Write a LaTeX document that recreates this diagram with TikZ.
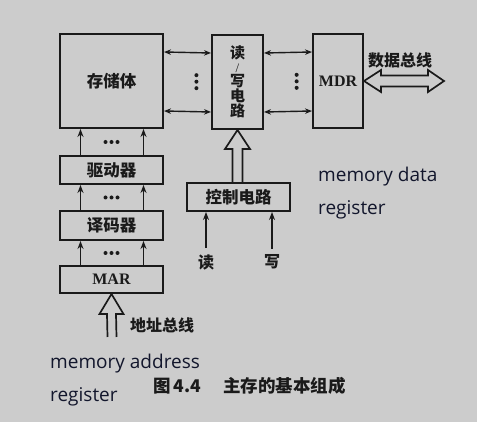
\documentclass[tikz,border=0pt]{standalone}
\usepackage{fontspec}
\setmainfont{Liberation Serif}
\newfontfamily\cjk{Noto Sans CJK SC}
\newfontfamily\uifont{Open Sans}
\usetikzlibrary{arrows.meta,calc}
\definecolor{bg}{RGB}{204,204,204}
\definecolor{ink}{RGB}{26,26,26}
\definecolor{navy}{RGB}{18,22,44}
\tikzset{
  box/.style={draw=ink, fill=bg, line width=2pt, inner sep=0pt, align=center,
    font=\cjk\bfseries\fontsize{16.5}{16.5}\selectfont, text=ink},
  rbox/.style={draw=ink, fill=bg, line width=2pt, inner sep=0pt,
    font=\rmfamily\bfseries\fontsize{16}{16}\selectfont, text=ink},
  lbl/.style={inner sep=0pt, font=\cjk\bfseries\fontsize{16}{16}\selectfont, text=ink},
  note/.style={inner sep=0pt, anchor=north west, align=left, text=navy,
    font=\uifont\fontsize{19}{33}\selectfont},
  arr/.style={-{Stealth[length=8pt,width=6pt]}, line width=1.4pt, draw=ink},
  darr/.style={{Stealth[length=7pt,width=5.5pt]}-{Stealth[length=7pt,width=5.5pt]},
    line width=1.4pt, draw=ink},
  hollow/.style={draw=ink, fill=bg, line width=1.7pt, line join=miter},
}

\begin{document}
\begin{tikzpicture}[x=1pt,y=-1pt]
  \fill[bg] (0,0) rectangle (477,422);
  \useasboundingbox (0,0) rectangle (477,422);

  \node[box, minimum width=103pt, minimum height=94pt] (mem) at (111.5,81) {存储体};
  \node[box, minimum width=51pt, minimum height=94pt,
    font=\cjk\bfseries\fontsize{15}{15}\selectfont] (rw) at (237.5,82)
    {读\\[-1pt]{\rmfamily\mdseries\fontsize{13}{13}\selectfont /}\\[-1pt]写\\电\\路};
  \node[rbox, minimum width=50pt, minimum height=94pt] (mdr) at (338,81) {MDR};
  \node[box, minimum width=103pt, minimum height=28pt] (drv) at (111.5,170) {驱动器};
  \node[box, minimum width=103pt, minimum height=29pt] (dec) at (111.5,225.5) {译码器};
  \node[rbox, minimum width=103pt, minimum height=27pt] (mar) at (111.5,279.5) {MAR};
  \node[box, minimum width=103pt, minimum height=28pt] (ctrl) at (238.5,197) {控制电路};

  \draw[darr] ([yshift=-19pt]mem.north east) -- ([yshift=-19pt]rw.north west);
  \draw[darr] ([yshift=18pt]mem.south east) -- ([yshift=18pt]rw.south west);
  \draw[darr] ([yshift=-19pt]rw.north east) -- ([yshift=-19pt]mdr.north west);
  \draw[darr] ([yshift=18pt]rw.south east) -- ([yshift=18pt]mdr.south west);
  \foreach \d in {-6.5,0,6.5} {
    \fill[ink] ($(mem.east)!0.69!(rw.west)+(0,\d)$) circle (2pt);
    \fill[ink] ($(rw.east)!0.68!(mdr.west)+(0,\d)$) circle (2pt);
  }

  \foreach \up/\lo in {mem/drv,drv/dec,dec/mar} {
    \draw[arr] ([xshift=-31pt]\lo.north) -- ([xshift=-31pt]\up.south);
    \draw[arr] ([xshift=32pt]\lo.north) -- ([xshift=32pt]\up.south);
    \foreach \d in {-6,0,6}
      \fill[ink] ($(\up.south)!0.5!(\lo.north)+(\d,0)$) circle (2pt);
  }

  \draw[hollow] ($(rw.south |- ctrl.north)+(-5,0)$) -- ($(rw.south)+(-5,19)$)
    -- ++(-7.5,0) -- (rw.south) -- ++(12.5,19) -- ++(-7.5,0)
    -- ($(rw.south |- ctrl.north)+(5,0)$);

  \coordinate (abus) at (112,337);
  \draw[hollow] ($(abus)+(-4.5,0)$) -- ($(mar.south)+(-4.5,20)$) -- ++(-7.5,0)
    -- (mar.south) -- ++(12,20) -- ++(-7.5,0) -- ($(abus)+(4.5,0)$);
  \node[lbl, anchor=west] (alab) at (130,325) {地址总线};

  \draw[hollow] (mdr.east) -- ++(17,-11) -- ++(0,5.5) -- ++(47,0) -- ++(0,-5.5)
    -- ++(16,11) -- ++(-16,11) -- ++(0,-5.5) -- ++(-47,0) -- ++(0,5.5) -- cycle;
  \node[lbl] (dlab) at (400,60) {数据总线};

  \node[lbl] (rd) at (206,262) {读};
  \node[lbl] (wr) at (272,262) {写};
  \draw[arr] ([yshift=6pt]rd.north) -- (rd.north |- ctrl.south);
  \draw[arr] ([yshift=6pt]wr.north) -- (wr.north |- ctrl.south);

  \node[note] (mdrnote) at (318,167) {memory data\\register};
  \node[note] (marnote) at (50,354) {memory address\\register};
  \node[lbl, anchor=west, font=\cjk\bfseries\fontsize{17.5}{17.5}\selectfont] (cap)
    at (153,386) {图\,4.4\hspace{22pt}主存的基本组成};
\end{tikzpicture}
\end{document}
